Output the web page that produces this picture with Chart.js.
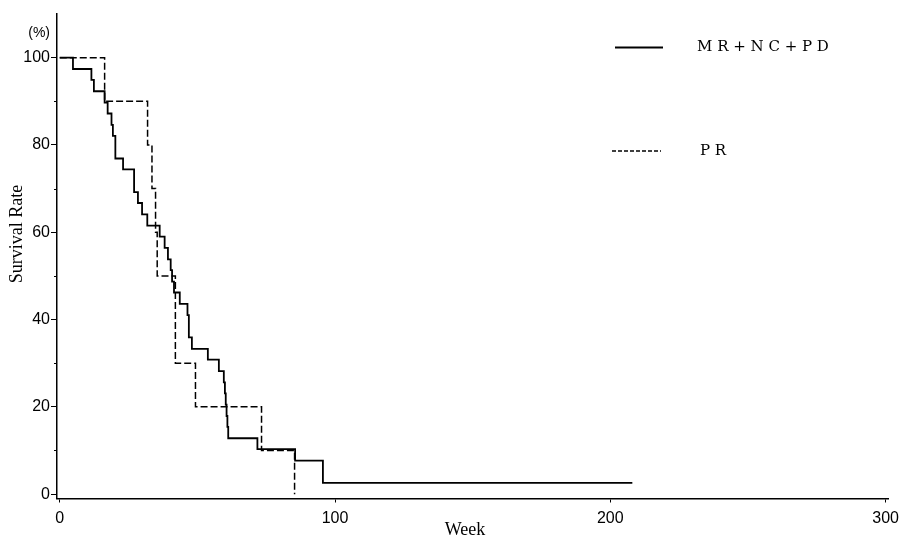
<!DOCTYPE html>
<html>
<head>
<meta charset="utf-8">
<script src="https://cdn.jsdelivr.net/npm/chart.js@4/dist/chart.umd.min.js"></script>
<style>
  html, body { margin: 0; padding: 0; background: #ffffff; }
  #wrap { width: 905px; height: 543px; position: relative; }
</style>
</head>
<body>
<div id="wrap"><canvas id="c" width="905" height="543"></canvas></div>
<script>
// ---- data (Kaplan-Meier steps) ----
const weeksMR = [0, 4.8, 11.5, 12.4, 16.3, 17.4, 18.8, 19.3, 20.2, 23.0,
                 27.0, 28.4, 29.9, 31.8, 36.3, 38.1, 39.3, 40.3, 40.8, 41.5,
                 43.6, 46.4, 46.9, 48.0, 53.8, 57.8, 59.6, 60.0, 60.3, 60.6,
                 60.9, 61.2, 71.8, 85.5, 95.6, 208];
const survMR  = [100, 97.4, 94.9, 92.3, 89.7, 87.2, 84.6, 82.1, 76.9, 74.4,
                 69.2, 66.7, 64.1, 61.5, 59.0, 56.4, 53.8, 51.3, 48.7, 46.2,
                 43.6, 41.0, 35.9, 33.3, 30.8, 28.2, 25.6, 23.1, 20.5, 17.9,
                 15.4, 12.8, 10.3, 7.7, 2.6, 2.6];
const weeksPR = [0, 16.3, 31.9, 33.5, 34.8, 35.4, 42.0, 49.3, 73.3, 85.3];
const survPR  = [100, 90, 80, 70, 60, 50, 30, 20, 10, 0];

const seriesLabels = ['M R + N C + P D', 'P R'];
const xTicks = [0, 100, 200, 300];
const yTicks = [0, 20, 40, 60, 80, 100];
const yMinorTicks = [10, 30, 50, 70, 90];
const xTitle = 'Week';
const yTitle = 'Survival Rate';
const yUnit = '(%)';

const toPts = (xs, ys) => xs.map((x, i) => ({ x: x, y: ys[i] }));

const extras = {
  id: 'extras',
  afterDraw(chart) {
    const ctx = chart.ctx;
    const ys = chart.scales.y;
    const ca = chart.chartArea;
    ctx.save();
    // minor y ticks
    ctx.strokeStyle = '#000';
    ctx.lineWidth = 1;
    yMinorTicks.forEach(v => {
      const p = Math.round(ys.getPixelForValue(v)) + 0.5;
      ctx.beginPath();
      ctx.moveTo(ca.left - 3, p);
      ctx.lineTo(ca.left, p);
      ctx.stroke();
    });
    ctx.fillStyle = '#000';
    // unit label
    ctx.font = '14px "Liberation Sans", Arial, sans-serif';
    ctx.textAlign = 'right';
    ctx.textBaseline = 'middle';
    ctx.fillText(yUnit, 50, 33);
    // axis titles
    ctx.font = '18px "Liberation Serif", "Times New Roman", serif';
    ctx.textAlign = 'center';
    ctx.fillText(xTitle, 465, 530);
    ctx.save();
    ctx.translate(17, 234);
    ctx.rotate(-Math.PI / 2);
    ctx.fillText(yTitle, 0, 0);
    ctx.restore();
    // legend
    const legendY = [47.5, 151];
    const legendX0 = [615, 612];
    const legendX1 = [663, 661];
    const textX = [697, 700];
    chart.data.datasets.forEach((ds, i) => {
      ctx.beginPath();
      ctx.lineWidth = i === 0 ? 1.8 : 1.4;
      ctx.setLineDash(i === 0 ? [] : [4, 2]);
      ctx.moveTo(legendX0[i], legendY[i]);
      ctx.lineTo(legendX1[i], legendY[i]);
      ctx.stroke();
      ctx.setLineDash([]);
      ctx.font = '15px "DejaVu Serif", serif';
      ctx.textAlign = 'left';
      ctx.textBaseline = 'middle';
      ctx.fillText(ds.label, textX[i], legendY[i]);
    });
    ctx.restore();
  }
};

new Chart(document.getElementById('c'), {
  type: 'line',
  data: {
    datasets: [
      {
        label: seriesLabels[0],
        data: toPts(weeksMR, survMR),
        borderColor: '#000',
        borderWidth: 1.8,
        stepped: 'before',
        pointRadius: 0,
        fill: false
      },
      {
        label: seriesLabels[1],
        data: toPts(weeksPR, survPR),
        borderColor: '#000',
        borderWidth: 1.5,
        borderDash: [7, 3],
        stepped: 'before',
        pointRadius: 0,
        fill: false
      }
    ]
  },
  options: {
    responsive: false,
    animation: false,
    layout: { padding: { top: 14, right: 15.5, left: 0, bottom: 0 } },
    plugins: { legend: { display: false }, tooltip: { enabled: false } },
    scales: {
      x: {
        type: 'linear',
        min: -1,
        max: 301,
        afterBuildTicks: s => { s.ticks = xTicks.map(v => ({ value: v })); },
        afterFit: s => { s.height = 44.5; },
        border: { display: true, color: '#000', width: 1.5 },
        grid: { display: true, drawOnChartArea: false, drawTicks: true, tickLength: 4, color: '#000' },
        ticks: {
          color: '#000',
          padding: 6,
          maxRotation: 0,
          font: { family: '"Liberation Sans", Arial, sans-serif', size: 16 },
          callback: v => String(v)
        }
      },
      y: {
        type: 'linear',
        min: -1,
        max: 110,
        afterBuildTicks: s => { s.ticks = yTicks.map(v => ({ value: v })); },
        afterFit: s => { s.width = 57; },
        border: { display: true, color: '#000', width: 1.5 },
        grid: { display: true, drawOnChartArea: false, drawTicks: true, tickLength: 6, color: '#000' },
        ticks: {
          color: '#000',
          padding: 1,
          font: { family: '"Liberation Sans", Arial, sans-serif', size: 16 },
          callback: v => String(v)
        }
      }
    }
  },
  plugins: [extras]
});
</script>
</body>
</html>
